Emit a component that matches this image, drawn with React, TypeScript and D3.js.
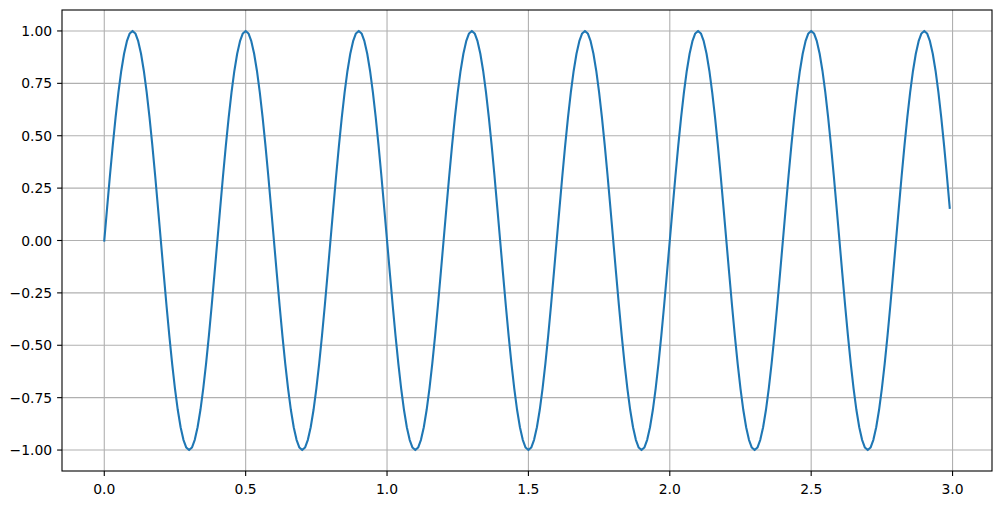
import React from "react";
import * as d3 from "d3";

// sampled signal, one sample every 0.01 on the x axis
const sampleStep = 0.01;
const signal: number[] = [
  0, 0.156, 0.309, 0.454, 0.588, 0.707, 0.809, 0.891, 0.951, 0.988, 1, 0.988, 0.951, 0.891, 0.809, 0.707, 0.588, 0.454, 0.309, 0.156, 0, -0.156, -0.309, -0.454, -0.588, -0.707, -0.809, -0.891, -0.951, -0.988, -1, -0.988, -0.951, -0.891, -0.809, -0.707, -0.588, -0.454, -0.309, -0.156,
  0, 0.156, 0.309, 0.454, 0.588, 0.707, 0.809, 0.891, 0.951, 0.988, 1, 0.988, 0.951, 0.891, 0.809, 0.707, 0.588, 0.454, 0.309, 0.156, 0, -0.156, -0.309, -0.454, -0.588, -0.707, -0.809, -0.891, -0.951, -0.988, -1, -0.988, -0.951, -0.891, -0.809, -0.707, -0.588, -0.454, -0.309, -0.156,
  0, 0.156, 0.309, 0.454, 0.588, 0.707, 0.809, 0.891, 0.951, 0.988, 1, 0.988, 0.951, 0.891, 0.809, 0.707, 0.588, 0.454, 0.309, 0.156, 0, -0.156, -0.309, -0.454, -0.588, -0.707, -0.809, -0.891, -0.951, -0.988, -1, -0.988, -0.951, -0.891, -0.809, -0.707, -0.588, -0.454, -0.309, -0.156,
  0, 0.156, 0.309, 0.454, 0.588, 0.707, 0.809, 0.891, 0.951, 0.988, 1, 0.988, 0.951, 0.891, 0.809, 0.707, 0.588, 0.454, 0.309, 0.156, 0, -0.156, -0.309, -0.454, -0.588, -0.707, -0.809, -0.891, -0.951, -0.988, -1, -0.988, -0.951, -0.891, -0.809, -0.707, -0.588, -0.454, -0.309, -0.156,
  0, 0.156, 0.309, 0.454, 0.588, 0.707, 0.809, 0.891, 0.951, 0.988, 1, 0.988, 0.951, 0.891, 0.809, 0.707, 0.588, 0.454, 0.309, 0.156, 0, -0.156, -0.309, -0.454, -0.588, -0.707, -0.809, -0.891, -0.951, -0.988, -1, -0.988, -0.951, -0.891, -0.809, -0.707, -0.588, -0.454, -0.309, -0.156,
  0, 0.156, 0.309, 0.454, 0.588, 0.707, 0.809, 0.891, 0.951, 0.988, 1, 0.988, 0.951, 0.891, 0.809, 0.707, 0.588, 0.454, 0.309, 0.156, 0, -0.156, -0.309, -0.454, -0.588, -0.707, -0.809, -0.891, -0.951, -0.988, -1, -0.988, -0.951, -0.891, -0.809, -0.707, -0.588, -0.454, -0.309, -0.156,
  0, 0.156, 0.309, 0.454, 0.588, 0.707, 0.809, 0.891, 0.951, 0.988, 1, 0.988, 0.951, 0.891, 0.809, 0.707, 0.588, 0.454, 0.309, 0.156, 0, -0.156, -0.309, -0.454, -0.588, -0.707, -0.809, -0.891, -0.951, -0.988, -1, -0.988, -0.951, -0.891, -0.809, -0.707, -0.588, -0.454, -0.309, -0.156,
  0, 0.156, 0.309, 0.454, 0.588, 0.707, 0.809, 0.891, 0.951, 0.988, 1, 0.988, 0.951, 0.891, 0.809, 0.707, 0.588, 0.454, 0.309, 0.156,
];

const xTicks = [0, 0.5, 1.0, 1.5, 2.0, 2.5, 3.0];
const yTicks = [-1.0, -0.75, -0.5, -0.25, 0, 0.25, 0.5, 0.75, 1.0];

const W = 1002;
const H = 505;
const margin = { top: 10, right: 10, bottom: 34, left: 62 };

const fmtX = (v: number) => v.toFixed(1);
const fmtY = (v: number) => v.toFixed(2).replace("-", "\u2212");

export default function App() {
  const points = signal.map((v, i) => ({ x: i * sampleStep, y: v }));
  const xMax = d3.max(points, (d) => d.x) as number;
  const pad = xMax * 0.05;

  const x = d3
    .scaleLinear()
    .domain([-pad, xMax + pad])
    .range([margin.left, W - margin.right]);
  const y = d3
    .scaleLinear()
    .domain([-1.1, 1.1])
    .range([H - margin.bottom, margin.top]);

  const line = d3
    .line<{ x: number; y: number }>()
    .x((d) => x(d.x))
    .y((d) => y(d.y));

  const left = margin.left;
  const right = W - margin.right;
  const top = margin.top;
  const bottom = H - margin.bottom;
  const tickLen = 4.9;
  const font = "DejaVu Sans, sans-serif";

  return (
    <div style={{ position: "absolute", left: 0, top: 0 }}>
      <svg width={W} height={H} style={{ display: "block", background: "#fff" }}>
        {/* grid */}
        <g stroke="#b0b0b0" strokeWidth={1.1}>
          {xTicks.map((t) => (
            <line key={"gx" + t} x1={x(t)} x2={x(t)} y1={top} y2={bottom} />
          ))}
          {yTicks.map((t) => (
            <line key={"gy" + t} x1={left} x2={right} y1={y(t)} y2={y(t)} />
          ))}
        </g>

        {/* signal */}
        <path
          d={line(points) ?? ""}
          fill="none"
          stroke="#1f77b4"
          strokeWidth={2.1}
          strokeLinejoin="round"
          strokeLinecap="square"
        />

        {/* frame */}
        <rect
          x={left}
          y={top}
          width={right - left}
          height={bottom - top}
          fill="none"
          stroke="#000"
          strokeWidth={1.1}
        />

        {/* x axis */}
        <g fontFamily={font} fontSize={13.9} fill="#000">
          {xTicks.map((t) => (
            <g key={"xt" + t}>
              <line x1={x(t)} x2={x(t)} y1={bottom} y2={bottom + tickLen} stroke="#000" strokeWidth={1.1} />
              <text x={x(t)} y={bottom + tickLen + 4.9} dy="0.95em" textAnchor="middle">
                {fmtX(t)}
              </text>
            </g>
          ))}
        </g>

        {/* y axis */}
        <g fontFamily={font} fontSize={13.9} fill="#000">
          {yTicks.map((t) => (
            <g key={"yt" + t}>
              <line x1={left - tickLen} x2={left} y1={y(t)} y2={y(t)} stroke="#000" strokeWidth={1.1} />
              <text x={left - tickLen - 4.9} y={y(t)} dy="0.36em" textAnchor="end">
                {fmtY(t)}
              </text>
            </g>
          ))}
        </g>
      </svg>
    </div>
  );
}
